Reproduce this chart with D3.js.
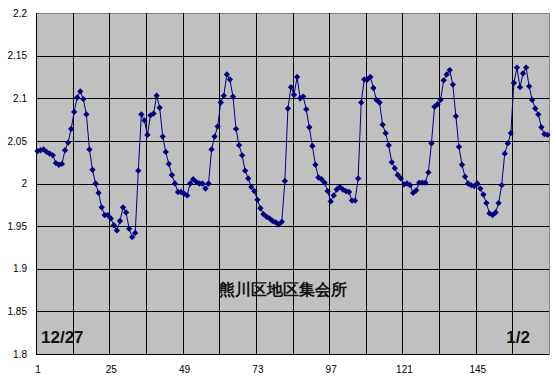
<!DOCTYPE html>
<html>
<head>
<meta charset="utf-8">
<script src="https://cdnjs.cloudflare.com/ajax/libs/d3/7.8.5/d3.min.js"></script>
<style>
  body{margin:0;background:#fff;}
  text{font-family:"Liberation Sans",Arial,sans-serif;}
</style>
</head>
<body>
<div id="chart"></div>
<script>
// hourly water level, 12/27 - 1/2
var levels = [
  2.038,2.039,2.040,2.037,2.035,2.033,2.024,2.022,2.023,2.039,2.048,2.064,
  2.084,2.101,2.108,2.099,2.081,2.040,2.016,2.000,1.989,1.972,1.963,1.963,
  1.959,1.951,1.945,1.956,1.972,1.966,1.947,1.937,1.942,2.015,2.081,2.074,
  2.057,2.080,2.082,2.103,2.089,2.055,2.037,2.023,2.010,2.000,1.990,1.990,
  1.988,1.986,2.000,2.005,2.002,2.000,2.000,1.994,2.000,2.040,2.055,2.067,
  2.095,2.103,2.128,2.122,2.102,2.064,2.045,2.033,2.015,2.006,1.996,1.991,
  1.981,1.971,1.964,1.961,1.959,1.956,1.9545,1.952,1.955,2.003,2.088,2.113,
  2.104,2.125,2.100,2.102,2.087,2.066,2.044,2.022,2.007,2.005,2.001,1.991,
  1.979,1.986,1.993,1.996,1.993,1.991,1.990,1.980,1.980,2.006,2.095,2.122,
  2.122,2.125,2.112,2.098,2.095,2.069,2.059,2.045,2.025,2.018,2.010,2.006,
  1.999,2.000,1.998,1.989,1.992,2.001,2.001,2.001,2.013,2.047,2.090,2.093,
  2.098,2.121,2.128,2.133,2.116,2.079,2.043,2.022,2.008,2.000,1.998,1.997,
  2.000,1.994,1.987,1.977,1.965,1.963,1.966,1.977,1.998,2.035,2.047,2.059,
  2.118,2.136,2.113,2.129,2.136,2.114,2.098,2.088,2.081,2.066,2.058,2.057
];
var xTicks = [1,25,49,73,97,121,145];
var yTicks = [1.8,1.85,1.9,1.95,2,2.05,2.1,2.15,2.2];
var startLabel = "12/27";
var endLabel = "1/2";
var title = "熊川区地区集会所";

(function(){
var width = 556, height = 385;
var plotLeft = 36, plotRight = 549, plotTop = 13, plotBottom = 354;

var svg = d3.select("#chart").append("svg")
  .attr("width", width).attr("height", height);

var x = d3.scaleLinear().domain([0.5, levels.length + 0.5]).range([plotLeft, plotRight]);
var y = d3.scaleLinear().domain([1.8, 2.2]).range([plotBottom, plotTop]);

//plot area
svg.append("rect")
  .attr("x", plotLeft).attr("y", plotTop)
  .attr("width", plotRight - plotLeft).attr("height", plotBottom - plotTop)
  .attr("fill", "#c0c0c0")
  .attr("stroke", "#808080")
  .attr("shape-rendering", "crispEdges");

//vertical grid every 12 hours, on category boundaries
var xGrid = d3.range(0, levels.length / 12 + 1).map(function(k){ return 0.5 + 12 * k; });
svg.append("g")
  .attr("transform", "translate(0," + plotBottom + ")")
  .call(d3.axisBottom(x).tickValues(xGrid.slice(0, -1)).tickSize(-(plotBottom - plotTop)).tickFormat(""))
  .call(function(g){
    g.select(".domain").remove();
    g.selectAll("line").attr("stroke", "#000").attr("shape-rendering", "crispEdges");
  });

//horizontal grid
svg.append("g")
  .attr("transform", "translate(" + plotLeft + ",0)")
  .call(d3.axisLeft(y).tickValues(yTicks.slice(0, -1)).tickSize(-(plotRight - plotLeft)).tickFormat(""))
  .call(function(g){
    g.select(".domain").remove();
    g.selectAll("line").attr("stroke", "#000").attr("shape-rendering", "crispEdges");
  });

//axis lines
svg.append("line")
  .attr("x1", plotLeft).attr("x2", plotLeft).attr("y1", plotTop).attr("y2", plotBottom)
  .attr("stroke", "#000").attr("shape-rendering", "crispEdges");
svg.append("line")
  .attr("x1", plotLeft).attr("x2", plotRight).attr("y1", plotBottom).attr("y2", plotBottom)
  .attr("stroke", "#000").attr("shape-rendering", "crispEdges");

//tick labels
svg.append("g")
  .attr("transform", "translate(" + plotLeft + ",0)")
  .call(d3.axisLeft(y).tickValues(yTicks).tickSize(0).tickPadding(9).tickFormat(d3.format("")))
  .call(function(g){
    g.select(".domain").remove();
    g.selectAll("text").attr("font-size", 10).attr("font-family", "Liberation Sans, Arial").attr("fill", "#000");
  });

svg.append("g")
  .attr("transform", "translate(0," + plotBottom + ")")
  .call(d3.axisBottom(x).tickValues(xTicks).tickSize(0).tickPadding(12))
  .call(function(g){
    g.select(".domain").remove();
    g.selectAll("text").attr("font-size", 10).attr("font-family", "Liberation Sans, Arial").attr("fill", "#000");
  });

//series
var line = d3.line()
  .x(function(d, i){ return x(i + 1); })
  .y(function(d){ return y(d); });

svg.append("path")
  .datum(levels)
  .attr("d", line)
  .attr("fill", "none")
  .attr("stroke", "#000080")
  .attr("stroke-width", 1);

var diamond = d3.symbol().type(d3.symbolSquare).size(20);
svg.append("g").selectAll("path")
  .data(levels)
  .enter()
  .append("path")
  .attr("d", diamond)
  .attr("transform", function(d, i){
    return "translate(" + x(i + 1) + "," + y(d) + ") rotate(45)";
  })
  .attr("fill", "#000080");

//labels inside plot
svg.append("text")
  .attr("x", 41).attr("y", 343)
  .attr("font-family", "DejaVu Sans").attr("font-weight", "bold").attr("font-size", 17)
  .attr("fill", "#111")
  .text(startLabel);

svg.append("text")
  .attr("x", 530).attr("y", 343)
  .attr("text-anchor", "end")
  .attr("font-family", "DejaVu Sans").attr("font-weight", "bold").attr("font-size", 17)
  .attr("fill", "#111")
  .text(endLabel);

svg.append("text")
  .attr("x", 283).attr("y", 295)
  .attr("text-anchor", "middle")
  .attr("font-family", "Noto Sans CJK JP").attr("font-weight", "bold").attr("font-size", 16)
  .attr("fill", "#111")
  .text(title);
})();
</script>
</body>
</html>
